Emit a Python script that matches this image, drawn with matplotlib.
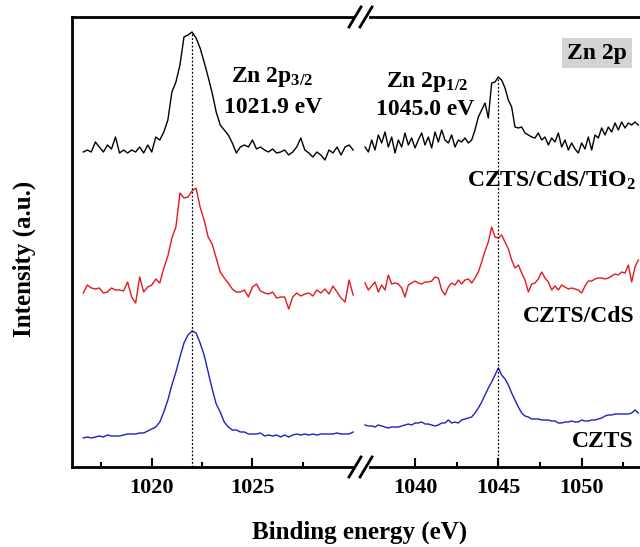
import matplotlib
matplotlib.use('Agg')
import matplotlib.pyplot as plt
from matplotlib.lines import Line2D

plt.rcParams['font.family'] = 'Liberation Serif'
plt.rcParams['font.weight'] = 'bold'
plt.rcParams['mathtext.fontset'] = 'custom'
plt.rcParams['mathtext.rm'] = 'Liberation Serif:bold'
plt.rcParams['mathtext.it'] = 'Liberation Serif:italic:bold'
plt.rcParams['mathtext.bf'] = 'Liberation Serif:bold'

# ── Data (binding energy in eV, intensity in a.u., curves already offset) ──
energy_left = [
    1016.6, 1016.8, 1017.0, 1017.2, 1017.4, 1017.6, 1017.8, 1018.0, 1018.2, 1018.4,
    1018.6, 1018.8, 1019.0, 1019.2, 1019.4, 1019.6, 1019.8, 1020.0, 1020.2, 1020.4,
    1020.6, 1020.8, 1021.0, 1021.2, 1021.4, 1021.6, 1021.8, 1022.0, 1022.2, 1022.4,
    1022.6, 1022.8, 1023.0, 1023.2, 1023.4, 1023.6, 1023.8, 1024.0, 1024.2, 1024.4,
    1024.6, 1024.8, 1025.0, 1025.2, 1025.4, 1025.6, 1025.8, 1026.0, 1026.2, 1026.4,
    1026.6, 1026.8, 1027.0, 1027.2, 1027.4, 1027.6, 1027.8, 1028.0, 1028.2, 1028.4,
    1028.6, 1028.8, 1029.0, 1029.2, 1029.4, 1029.6, 1029.8, 1030.0]
energy_right = [
    1037.0, 1037.2, 1037.4, 1037.6, 1037.8, 1038.0, 1038.2, 1038.4, 1038.6, 1038.8,
    1039.0, 1039.2, 1039.4, 1039.6, 1039.8, 1040.0, 1040.2, 1040.4, 1040.6, 1040.8,
    1041.0, 1041.2, 1041.4, 1041.6, 1041.8, 1042.0, 1042.2, 1042.4, 1042.6, 1042.8,
    1043.0, 1043.2, 1043.4, 1043.6, 1043.8, 1044.0, 1044.2, 1044.4, 1044.6, 1044.8,
    1045.0, 1045.2, 1045.4, 1045.6, 1045.8, 1046.0, 1046.2, 1046.4, 1046.6, 1046.8,
    1047.0, 1047.2, 1047.4, 1047.6, 1047.8, 1048.0, 1048.2, 1048.4, 1048.6, 1048.8,
    1049.0, 1049.2, 1049.4, 1049.6, 1049.8, 1050.0, 1050.2, 1050.4, 1050.6, 1050.8,
    1051.0, 1051.2, 1051.4, 1051.6, 1051.8, 1052.0, 1052.2, 1052.4, 1052.6, 1052.8,
    1053.0, 1053.2, 1053.4]

tio2_left = [
    315, 317, 315, 325, 320, 315, 322, 318, 330, 314,
    317, 314, 317, 315, 320, 314, 322, 315, 330, 327,
    335, 347, 375, 385, 402, 430, 432, 435, 429, 419,
    405, 390, 374, 355, 342, 337, 332, 324, 314, 320,
    322, 320, 327, 318, 320, 317, 315, 318, 314, 315,
    317, 312, 315, 320, 329, 317, 314, 310, 315, 312,
    307, 317, 314, 320, 312, 320, 322, 317]
tio2_right = [
    320, 315, 327, 317, 332, 324, 335, 320, 330, 314,
    327, 320, 334, 322, 329, 319, 327, 334, 322, 330,
    319, 335, 325, 337, 327, 324, 332, 320, 327, 325,
    329, 324, 327, 337, 350, 357, 364, 349, 384, 385,
    390, 387, 379, 367, 360, 340, 339, 340, 334, 332,
    330, 329, 334, 327, 330, 322, 329, 325, 334, 320,
    327, 317, 324, 318, 314, 324, 318, 330, 317, 332,
    329, 339, 332, 340, 335, 344, 337, 345, 339, 344,
    342, 345, 342]

cds_left = [
    174, 182, 179, 178, 179, 174, 175, 179, 177, 177,
    176, 185, 170, 164, 190, 175, 180, 182, 188, 184,
    199, 211, 229, 240, 274, 269, 270, 276, 279, 260,
    247, 230, 223, 209, 195, 189, 184, 178, 175, 175,
    177, 170, 180, 183, 176, 174, 173, 175, 169, 170,
    170, 158, 170, 174, 171, 173, 174, 171, 177, 174,
    178, 173, 181, 175, 169, 165, 187, 172]
cds_right = [
    184, 177, 181, 185, 175, 182, 177, 192, 183, 184,
    183, 179, 170, 182, 184, 186, 184, 183, 185, 185,
    186, 190, 189, 177, 172, 180, 184, 182, 187, 183,
    187, 188, 184, 189, 195, 205, 216, 225, 240, 230,
    229, 232, 225, 218, 207, 199, 202, 194, 187, 175,
    183, 184, 188, 195, 189, 185, 177, 181, 177, 182,
    180, 178, 179, 178, 177, 174, 181, 186, 186, 188,
    189, 189, 188, 189, 191, 193, 192, 195, 194, 202,
    185, 200, 207]

czts_left = [
    29, 30, 29, 30, 31, 30, 32, 31, 31, 31,
    32, 33, 33, 33, 34, 34, 36, 38, 40, 45,
    55, 67, 82, 95, 110, 124, 132, 136, 134, 124,
    112, 95, 78, 63, 55, 45, 40, 37, 37, 35,
    35, 33, 33, 33, 34, 31, 32, 31, 32, 30,
    32, 30, 32, 33, 32, 33, 32, 33, 32, 33,
    33, 33, 33, 34, 33, 33, 33, 35]
czts_right = [
    42, 41, 41, 40, 42, 41, 40, 39, 40, 40,
    40, 41, 42, 43, 42, 44, 44, 45, 43, 43,
    42, 41, 42, 44, 44, 47, 44, 45, 44, 47,
    48, 49, 50, 54, 59, 65, 72, 79, 85, 92,
    99, 92, 88, 82, 74, 67, 60, 54, 51, 50,
    48, 48, 48, 47, 47, 47, 46, 46, 44, 44,
    45, 45, 46, 45, 45, 47, 46, 46, 47, 47,
    48, 49, 51, 52, 52, 53, 53, 53, 53, 53,
    54, 57, 54]

peak_32 = 1022.0      # Zn 2p3/2 marker (labelled 1021.9 eV)
peak_12 = 1045.0      # Zn 2p1/2 marker
peak_32_top = 435
peak_12_top = 390

COLORS = {'tio2': '#000000', 'cds': '#e3191c', 'czts': '#1f1fc4'}

# ── Figure geometry (pixels of a 640 x 547 canvas) ──────────────────────────
W, H = 640, 547
def fx(px):
    return px / W
def fy(py):
    return 1 - py / H

X0, XB, YT, YB = 72, 361, 17, 467
fig = plt.figure(figsize=(6.4, 5.47), dpi=100)
ax1 = fig.add_axes([fx(X0), fy(YB), fx(XB) - fx(X0), fy(YT) - fy(YB)])
ax2 = fig.add_axes([fx(XB), fy(YB), 1 - fx(XB), fy(YT) - fy(YB)])

ax1.set_xlim(1016.04, 1030.39)
ax2.set_xlim(1036.76, 1053.5)
for ax in (ax1, ax2):
    ax.set_ylim(0, 450)
    ax.set_yticks([])
    for s in ax.spines.values():
        s.set_linewidth(2.0)
    ax.tick_params(axis='x', which='both', direction='in', top=False,
                   width=1.5, labelsize=16, pad=8)
    ax.tick_params(axis='x', which='major', length=6.5)
    ax.tick_params(axis='x', which='minor', length=3.5)

ax1.spines['right'].set_visible(False)
ax2.spines['left'].set_visible(False)
ax2.spines['right'].set_visible(False)
ax1.spines['top'].set_bounds(1016.04, 1030.0)
ax1.spines['bottom'].set_bounds(1016.04, 1030.0)
ax2.spines['top'].set_bounds(1037.3, 1053.5)
ax2.spines['bottom'].set_bounds(1037.3, 1053.5)

ax1.set_xticks([1020, 1025])
ax1.set_xticks([1017.5, 1022.5, 1027.5], minor=True)
ax2.set_xticks([1040, 1045, 1050])
ax2.set_xticks([1042.5, 1047.5, 1052.5], minor=True)

# ── Spectra ────────────────────────────────────────────────────────────────
ax1.plot(energy_left, tio2_left, color=COLORS['tio2'], lw=1.0)
ax1.plot(energy_left, cds_left, color=COLORS['cds'], lw=1.0)
ax1.plot(energy_left, czts_left, color=COLORS['czts'], lw=1.0)
ax2.plot(energy_right, tio2_right, color=COLORS['tio2'], lw=1.0)
ax2.plot(energy_right, cds_right, color=COLORS['cds'], lw=1.0)
ax2.plot(energy_right, czts_right, color=COLORS['czts'], lw=1.0)

ax1.vlines(peak_32, 0, peak_32_top, colors='k', lw=0.9, linestyles=(0, (1.5, 1.5)))
ax2.vlines(peak_12, 0, peak_12_top, colors='k', lw=0.9, linestyles=(0, (1.5, 1.5)))

# ── Annotations ────────────────────────────────────────────────────────────
FS = 17
ax1.text(1026.0, 385, 'Zn 2p$_{3/2}$', ha='center', va='baseline', fontsize=FS)
ax1.text(1026.0, 354, '1021.9 eV', ha='center', va='baseline', fontsize=FS)
ax2.text(1040.75, 380, 'Zn 2p$_{1/2}$', ha='center', va='baseline', fontsize=FS)
ax2.text(1040.6, 352, '1045.0 eV', ha='center', va='baseline', fontsize=FS)
ax2.text(1050.92, 414, 'Zn 2p', ha='center', va='center', fontsize=FS,
         bbox=dict(boxstyle='square,pad=0.2', facecolor='#d3d3d3', edgecolor='none'))
ax2.text(1043.12, 280, 'CZTS/CdS/TiO$_2$', ha='left', va='baseline', fontsize=FS,
         clip_on=False)
ax2.text(1046.48, 145, 'CZTS/CdS', ha='left', va='baseline', fontsize=FS)
ax2.text(1049.42, 20, 'CZTS', ha='left', va='baseline', fontsize=FS)

fig.text(fx(360), fy(532), 'Binding energy (eV)', ha='center', va='center', fontsize=18)
fig.text(fx(24), fy(259), 'Intensity (a.u.)', ha='center', va='center',
         rotation=90, fontsize=18)

# ── Axis-break marks ─────────────────────────────────────────────────────────
for yb in (YT, YB):
    for xb in (355, 366):
        fig.add_artist(Line2D([fx(xb - 6), fx(xb + 6)], [fy(yb + 10), fy(yb - 10)],
                              color='k', lw=2.0, transform=fig.transFigure,
                              clip_on=False))

fig.savefig('out.png', dpi=100, facecolor='white')
